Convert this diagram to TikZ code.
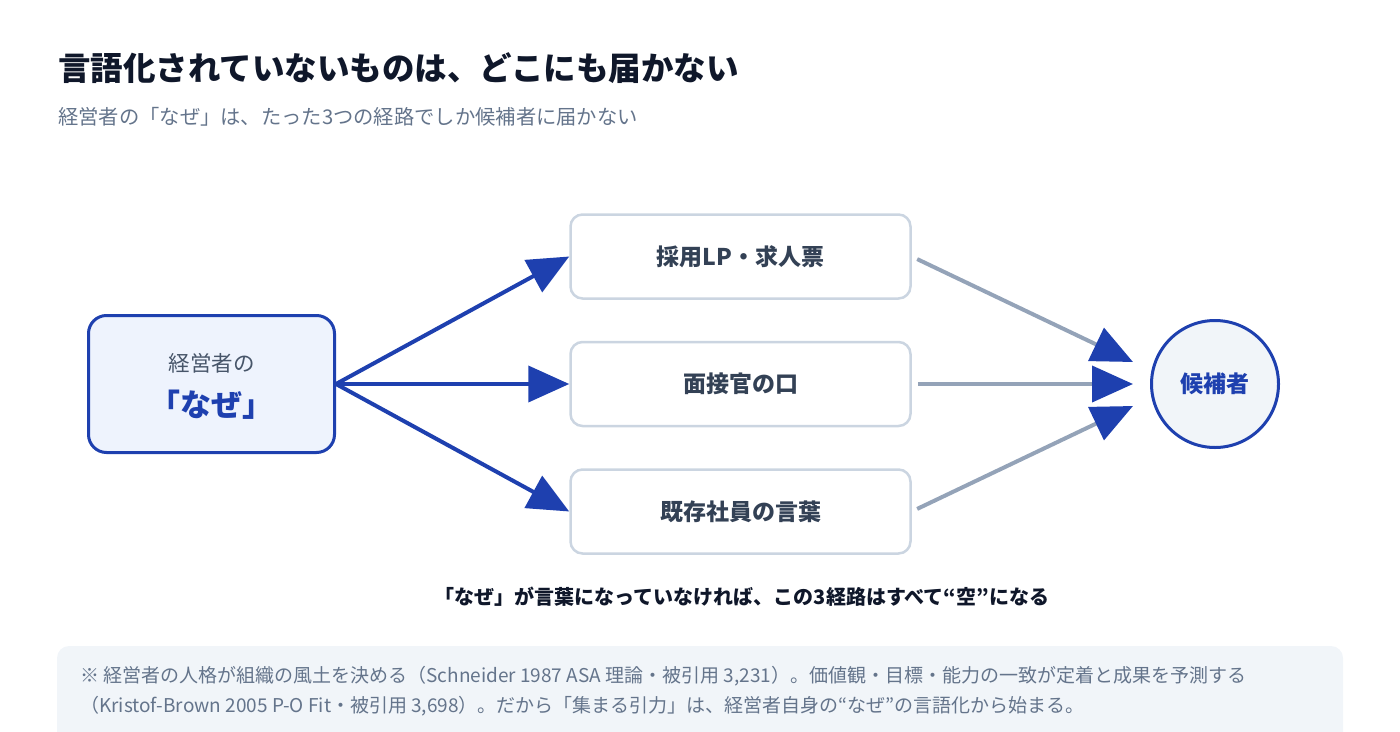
\documentclass[tikz,border=0pt]{standalone}
\usepackage{fontspec}
\setmainfont{Noto Sans CJK JP}
\usepackage{tikz}
\usetikzlibrary{positioning,arrows.meta}
\definecolor{navy}{HTML}{1E40AF}
\definecolor{ink}{HTML}{0F172A}
\definecolor{muted}{HTML}{64748B}
\definecolor{subink}{HTML}{475569}
\definecolor{boxink}{HTML}{334155}
\definecolor{boxline}{HTML}{CBD5E1}
\definecolor{feedline}{HTML}{94A3B8}
\definecolor{whyfill}{HTML}{EEF3FD}
\definecolor{softfill}{HTML}{F1F5F9}
\newcommand{\fs}[1]{\fontsize{#1}{#1}\selectfont}
\tikzstyle{label} = [inner sep=0pt, anchor=west]
\tikzstyle{source} = [draw=navy, line width=3pt, fill=whyfill, rounded corners=18pt, minimum width=246pt, minimum height=137pt]
\tikzstyle{channel} = [draw=boxline, line width=2.5pt, fill=white, rounded corners=12pt, minimum width=340pt, minimum height=84pt, text=boxink, font=\fs{23}\bfseries]
\tikzstyle{target} = [circle, draw=navy, line width=3pt, fill=softfill, minimum size=127pt, text=navy, font=\fs{23}\bfseries]
\tikzstyle{push} = [draw=navy, line width=4pt, -{Triangle[length=41pt,width=36pt]}]
\tikzstyle{feed} = [draw=feedline, line width=4pt, shorten <=6pt, -{Triangle[length=41pt,width=36pt,color=navy]}]

\begin{document}
\begin{tikzpicture}[x=1pt, y=-1pt]
    \useasboundingbox (0,0) rectangle (1400,731);
    % heading
    \node[label, text=ink, font=\fs{32.5}\bfseries] (title) at (58,68) {言語化されていないものは、どこにも届かない};
    \node[label, text=muted, font=\fs{20.3}] (subtitle) at (58,117) {経営者の「なぜ」は、たった3つの経路でしか候補者に届かない};
    % source, channels, candidate
    \node[source] (why) at (211.5,384) {};
    \node[inner sep=0pt, text=subink, font=\fs{21.5}] (whyof) at ([yshift=21pt]why.center) {経営者の};
    \node[inner sep=0pt, text=navy, font=\fs{31}\bfseries] (whyword) at ([yshift=-21pt]why.center) {「なぜ」};
    \node[channel] (lp) at (740.5,256.5) {採用LP・求人票};
    \node[channel, below=41pt of lp] (interview) {面接官の口};
    \node[channel, below=41pt of interview] (staff) {既存社員の言葉};
    \node[target] (cand) at (1215,384) {候補者};
    \coordinate (in1) at (1133,362);
    \coordinate (in2) at (1133,384);
    \coordinate (in3) at (1133,406);
    % arrows
    \draw[push] (why.east) -- (lp.west);
    \draw[push] (why.east) -- (interview.west);
    \draw[push] (why.east) -- (staff.west);
    \draw[feed] (lp.east) -- (in1);
    \draw[feed] (interview.east) -- (in2);
    \draw[feed] (staff.east) -- (in3);
    % caption and note
    \node[inner sep=0pt, text=ink, font=\fs{20}\bfseries] (caption) at (742,597) {「なぜ」が言葉になっていなければ、この3経路はすべて“空”になる};
    \fill[softfill, rounded corners=12pt] (57,646) rectangle (1343,760);
    \node[label, text=muted, font=\fs{19}] (note1) at (80,676) {※ 経営者の人格が組織の風土を決める（Schneider 1987 ASA 理論・被引用 3,231）。価値観・目標・能力の一致が定着と成果を予測する};
    \node[label, text=muted, font=\fs{19}] (note2) at (80,706) {（Kristof-Brown 2005 P-O Fit・被引用 3,698）。だから「集まる引力」は、経営者自身の“なぜ”の言語化から始まる。};
\end{tikzpicture}
\end{document}
